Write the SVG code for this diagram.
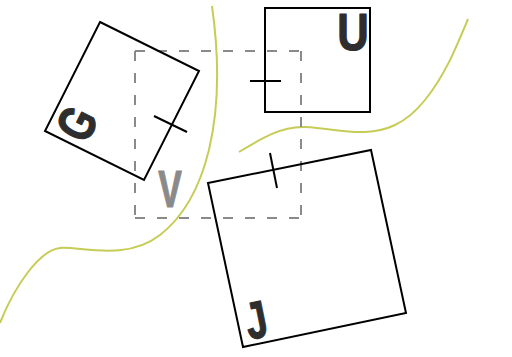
<svg xmlns="http://www.w3.org/2000/svg" width="512" height="357" viewBox="0 0 512 357">
<style>
.box{fill:none;stroke:#000;stroke-width:2;stroke-linejoin:miter}
.tick{stroke:#000;stroke-width:2;fill:none}
.dash{stroke:#8a8a8a;stroke-width:2;stroke-dasharray:10 12;fill:none}
.curve{fill:none;stroke:#c6cc56;stroke-width:2}
.lbl{font-family:"Liberation Sans",Arial,sans-serif;font-weight:bold;font-size:52px;fill:#2e2e2e;stroke:#2e2e2e;stroke-width:1.2;stroke-linejoin:round;text-anchor:middle}
.lblv{fill:#8a8a8a;stroke:#8a8a8a}
</style>
<rect width="512" height="357" fill="#fff"/>
<g id="curves">
<path class="curve" d="M212,6 C228,120 205,200 160,235 C125,262 80,246 60,248 C40,250 15,285 0,323"/>
<path class="curve" d="M239,152 C262,138 282,126 305,127 S345,133 365,132 S405,125 425,100 S455,50 468,19"/>
</g>
<g id="V">
<line class="dash" x1="135" y1="51" x2="301" y2="51"/>
<line class="dash" x1="135" y1="218" x2="301" y2="218"/>
<line class="dash" x1="135" y1="51" x2="135" y2="218"/>
<line class="dash" x1="301" y1="51" x2="301" y2="218"/>
<text class="lbl lblv" transform="translate(170,206.5) scale(0.68,1)">V</text>
</g>
<g id="G">
<polygon class="box" points="100,22 199,71 144,180 45,131"/>
<text class="lbl" transform="translate(76,123) rotate(-63.4) scale(0.74,1)" y="19">G</text>
</g>
<g id="U">
<rect class="box" x="265" y="8" width="105" height="104"/>
<text class="lbl" transform="translate(353,49.5) scale(0.84,1)">U</text>
</g>
<g id="J">
<polygon class="box" points="208,183 371,150 406,313 243,347"/>
<text class="lbl" transform="translate(256,319) rotate(-11.5) scale(0.74,1)" y="19">J</text>
</g>
<g id="connectors">
<line class="tick" x1="154" y1="116" x2="187" y2="132"/>
<line class="tick" x1="250" y1="81" x2="281" y2="81"/>
<line class="tick" x1="270" y1="153" x2="277" y2="188"/>
</g>
</svg>
